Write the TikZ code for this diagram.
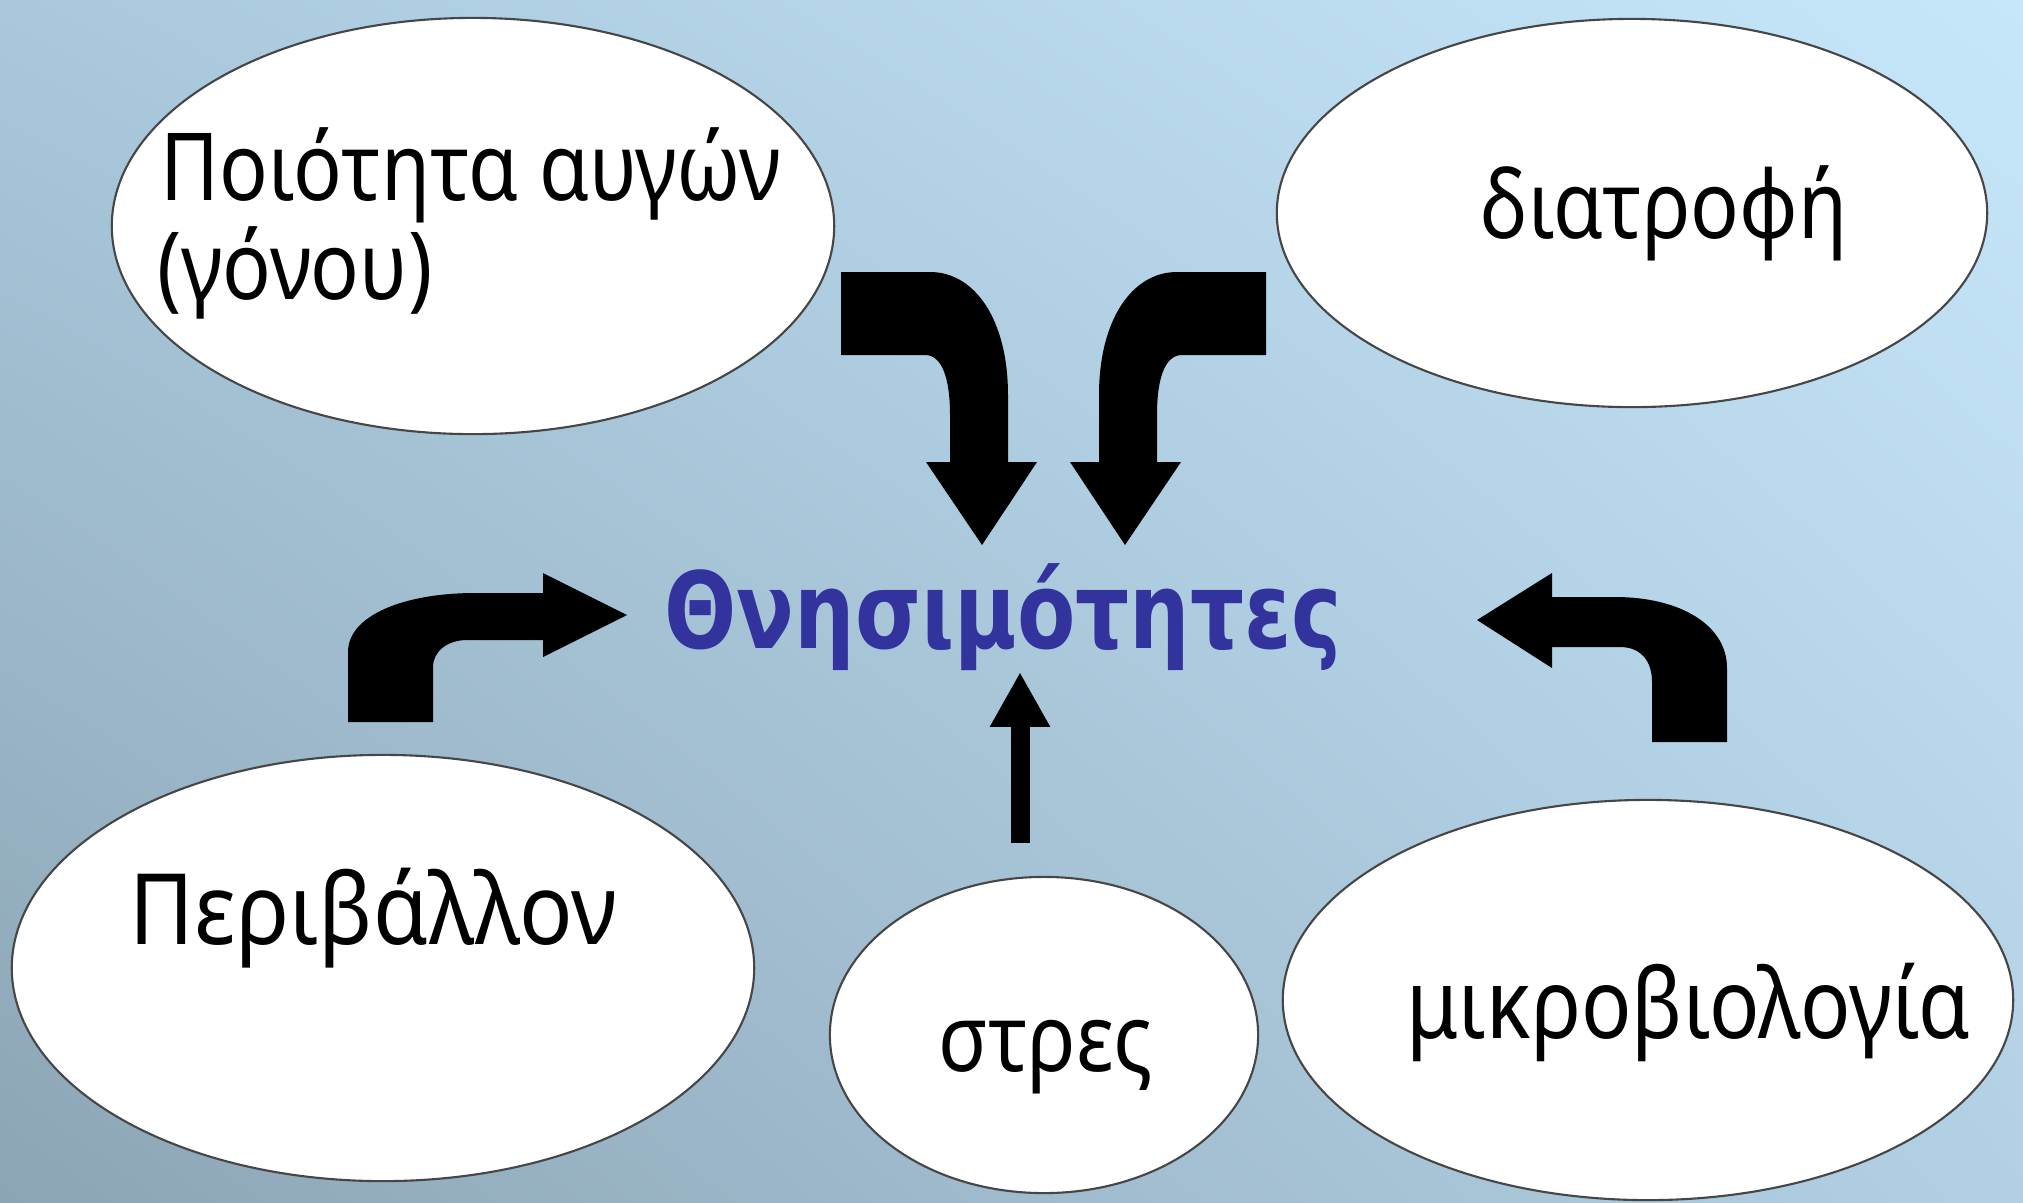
\documentclass[tikz,border=0pt]{standalone}
\usepackage{fontspec}
\setmainfont{Noto Sans}
\newfontfamily\lblfont{Noto Sans}[FakeStretch=0.86]
\newfontfamily\widefont{Noto Sans}[FakeStretch=0.90]
\newfontfamily\ctrfont{DejaVu Sans}[FakeStretch=0.80]
\usetikzlibrary{shapes.geometric,arrows.meta,shadings}
\definecolor{bgUL}{RGB}{169,200,220}
\definecolor{bgUR}{RGB}{198,230,250}
\definecolor{bgLL}{RGB}{140,165,181}
\definecolor{bgLR}{RGB}{178,208,228}
\definecolor{ctrblue}{RGB}{51,51,158}
\definecolor{edgegray}{RGB}{70,70,70}
\tikzset{
  bubble/.style={ellipse, draw=edgegray, line width=0.6pt, fill=white, inner sep=0pt},
  lbl/.style={anchor=base west, inner sep=0pt, font=\lblfont\fontsize{26.7pt}{32pt}\selectfont},
  ctr/.style={anchor=base west, inner sep=0pt, text=ctrblue, font=\ctrfont\bfseries\fontsize{30.2pt}{36pt}\selectfont},
  blockarrow/.style={fill=black, draw=none},
  thinarrow/.style={line width=5.4pt, -{Triangle[width=16pt,length=15.6pt]}}
}
\begin{document}
\begin{tikzpicture}[x=0.01cm, y=-0.01cm]
\useasboundingbox (0,0) rectangle (2023,1202);
\shade[upper left=bgUL, upper right=bgUR, lower left=bgLL, lower right=bgLR] (0,0) rectangle (2023,1202);

% ellipses
\node[bubble, minimum width=7.22cm, minimum height=4.16cm] (e1) at (473,226) {};
\node[bubble, minimum width=7.10cm, minimum height=3.88cm] (e2) at (1632,213) {};
\node[bubble, minimum width=7.42cm, minimum height=4.26cm] (e3) at (383,968) {};
\node[bubble, minimum width=4.28cm, minimum height=3.16cm] (e4) at (1044,1035) {};
\node[bubble, minimum width=7.30cm, minimum height=4.00cm] (e5) at (1648,1000) {};

% texts
\node[lbl] (t1a) at (160,200) {Ποιότητα αυγών};
\node[lbl] (t1b) at (157,299) {(γόνου)};
\node[lbl] (t2) at (1480,238) {διατροφή};
\node[lbl, font=\widefont\fontsize{28pt}{33pt}\selectfont] (t3) at (129,944) {Περιβάλλον};
\node[lbl] (t4) at (938,1071) {στρες};
\node[lbl, font=\lblfont\fontsize{27.6pt}{33pt}\selectfont] (t5) at (1406,1038) {μικροβιολογία};
\node[ctr] (c) at (664,648) {Θνησιμότητες};

% top-left bent arrow
\fill[blockarrow] (841,272) -- (930,272)
  .. controls (975,272) and (1008,320) .. (1008,395)
  -- (1008,462) -- (1037,462) -- (982,545) -- (926,462) -- (950,462) -- (950,415)
  .. controls (950,378) and (942,355) .. (925,355)
  -- (841,355) -- cycle;
% top-right bent arrow (mirror)
\fill[blockarrow] (1266,272) -- (1177,272)
  .. controls (1132,272) and (1099,320) .. (1099,395)
  -- (1099,462) -- (1070,462) -- (1125,545) -- (1181,462) -- (1157,462) -- (1157,415)
  .. controls (1157,378) and (1165,355) .. (1182,355)
  -- (1266,355) -- cycle;
% bottom-left bent arrow
\fill[blockarrow] (348,722) -- (348,652)
  .. controls (348,615) and (405,593) .. (475,593)
  -- (543,593) -- (543,573) -- (627,615) -- (543,657) -- (543,640) -- (467,640)
  .. controls (448,640) and (433,651) .. (433,667)
  -- (433,722) -- cycle;
% bottom-right bent arrow
\fill[blockarrow] (1727,742) -- (1727,668)
  .. controls (1727,625) and (1680,597) .. (1615,597)
  -- (1552,597) -- (1552,573) -- (1477,620) -- (1552,668) -- (1552,647) -- (1620,647)
  .. controls (1640,647) and (1652,660) .. (1652,682)
  -- (1652,742) -- cycle;

% thin arrow from stress towards centre
\coordinate (sb) at (1020,843);
\coordinate (st) at (1020,672);
\draw[thinarrow] (sb) -- (st);
\end{tikzpicture}
\end{document}
